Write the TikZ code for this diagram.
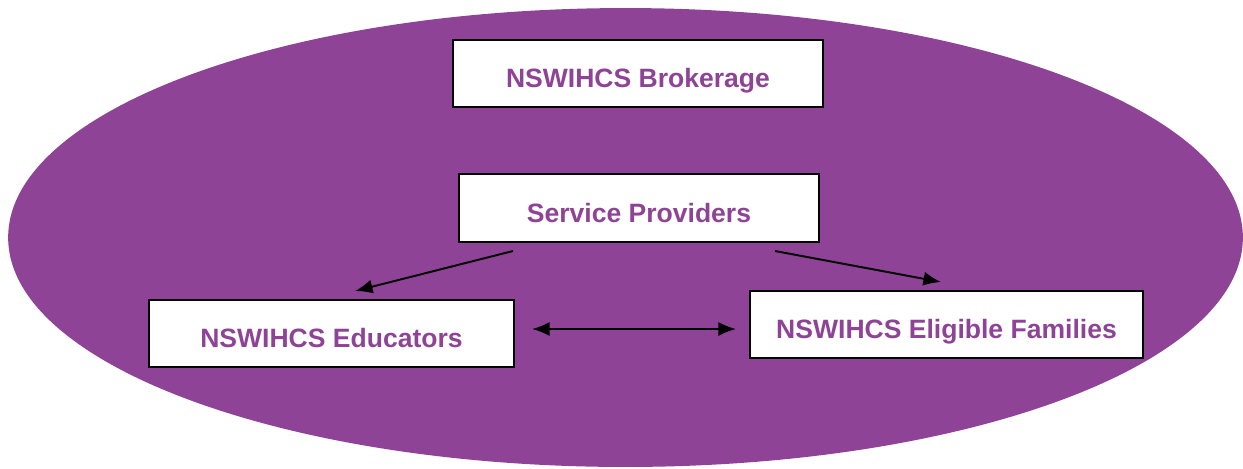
\documentclass[tikz,border=0pt]{standalone}
\usepackage{fontspec}
\setmainfont{Liberation Sans}
\usetikzlibrary{arrows.meta}
\definecolor{nswpurple}{RGB}{142,67,151}
\tikzstyle{block} = [draw, line width=1.6pt, fill=white, rectangle, inner sep=0pt,
    text=nswpurple, font=\bfseries\fontsize{15.1}{18}\selectfont,
    text height=0.58cm, text depth=0.01cm, minimum height=1.34cm]
\tikzstyle{link} = [line width=1.1pt]

\begin{document}
\begin{tikzpicture}[x=0.02cm, y=-0.02cm, >={Latex[length=10pt,width=8pt]}]
      \useasboundingbox (0,0) rectangle (1243,468);
      % the purple background
      \fill[nswpurple] (625.5,237.5) ellipse [x radius=12.35cm, y radius=4.59cm];

      % We start by placing the blocks
      \node [block, minimum width=7.4cm] at (638,73.5) (brokerage) {NSWIHCS Brokerage};
      \node [block, minimum width=7.2cm, minimum height=1.36cm] at (639,208) (providers) {Service Providers};
      \node [block, minimum width=7.3cm] at (331.5,333.5) (educators) {NSWIHCS Educators};
      \node [block, minimum width=7.86cm] at (946.5,324.5) (families) {NSWIHCS Eligible Families};

      % arrow ends
      \coordinate (prov_left) at (513,251);
      \coordinate (prov_right) at (775,251);
      \coordinate (edu_top) at (355,291);
      \coordinate (fam_top) at (941,282);
      \coordinate (edu_right) at (532,329);
      \coordinate (fam_left) at (736,329);

      \draw [link,->] (prov_left) -- (edu_top);
      \draw [link,->] (prov_right) -- (fam_top);
      \draw [link,<->] (edu_right) -- (fam_left);
\end{tikzpicture}
\end{document}
